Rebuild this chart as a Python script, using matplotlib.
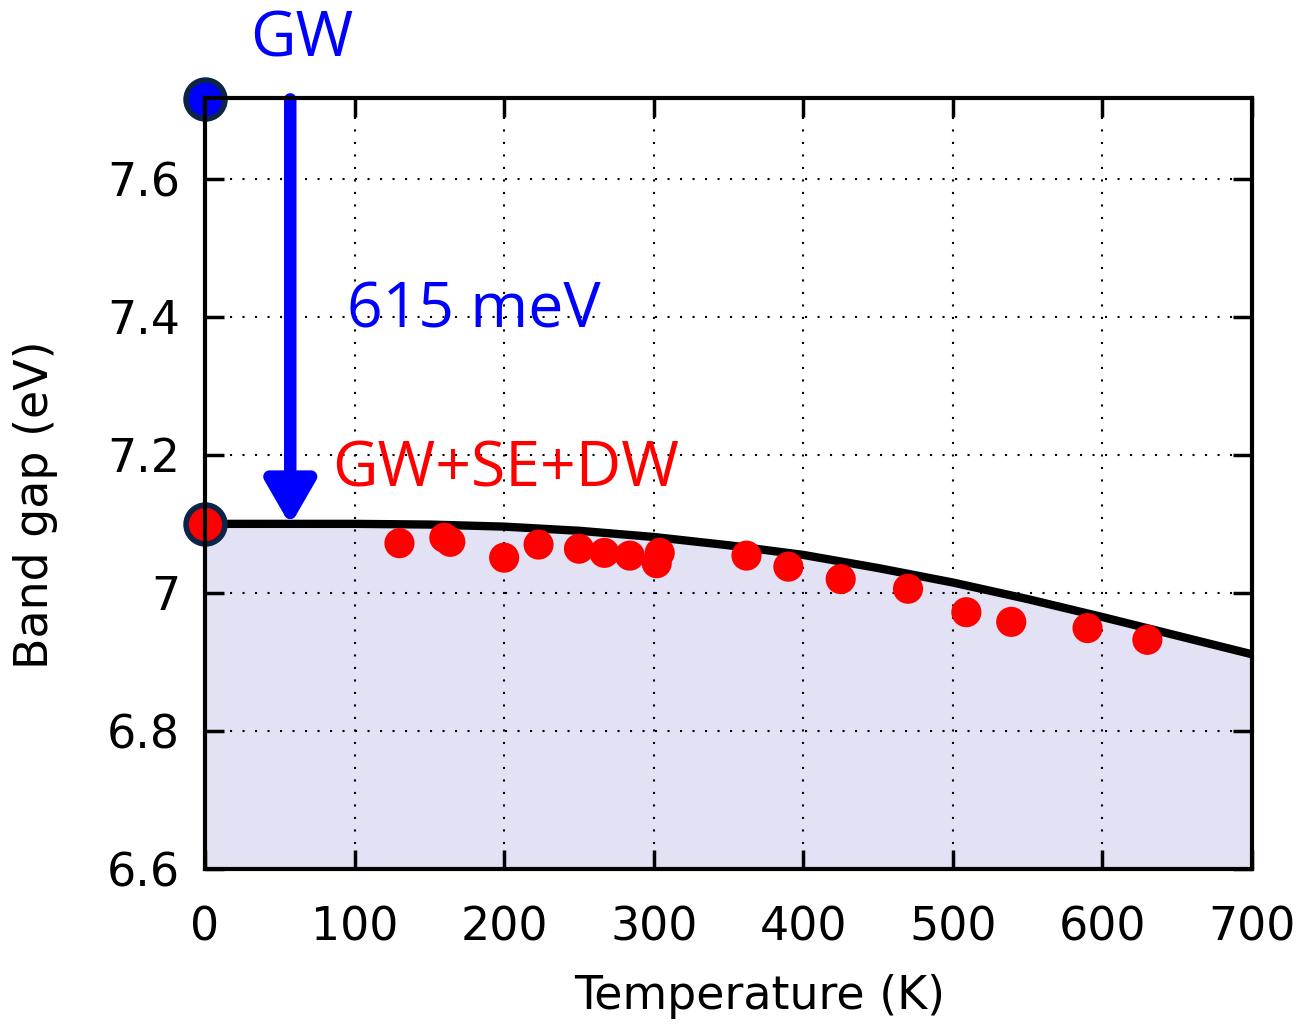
import matplotlib.pyplot as plt
import numpy as np

# theory curve (GW+SE+DW)
curve_T = [0, 50, 100, 150, 200, 250, 300, 350, 400, 450, 500, 550, 600, 650, 700]
curve_E = [7.100, 7.100, 7.100, 7.099, 7.096, 7.090, 7.081, 7.069, 7.055, 7.036,
           7.015, 6.991, 6.965, 6.938, 6.911]

# experimental points
exp_T = [130, 160, 164, 200, 223, 250, 267, 284, 304, 302, 362, 390, 425, 470,
         509, 539, 590, 630]
exp_E = [7.072, 7.080, 7.074, 7.051, 7.070, 7.064, 7.058, 7.054, 7.058, 7.043,
         7.054, 7.038, 7.020, 7.006, 6.972, 6.958, 6.949, 6.932]

gw_gap = 7.715
gw_se_dw_gap = 7.100
shift_label = "615 meV"

fig = plt.figure(figsize=(13.09, 10.24), dpi=100)
ax = fig.add_axes([0.1566, 0.1514, 0.7999, 0.7529])

ax.fill_between(curve_T, 6.6, curve_E, color='#e2e2f4', zorder=1)
ax.plot(curve_T, curve_E, color='black', lw=6, zorder=3)
ax.scatter(exp_T, exp_E, s=470, color='red', edgecolors='none', zorder=4)

ax.plot([0], [gw_gap], 'o', ms=28, mfc='blue', mec='#0b2447', mew=4,
        clip_on=False, zorder=6)
ax.plot([0], [gw_se_dw_gap], 'o', ms=28, mfc='red', mec='#0b2447', mew=4,
        clip_on=False, zorder=6)

ax.annotate('', xy=(57, gw_se_dw_gap - 0.002), xytext=(57, gw_gap),
            arrowprops=dict(arrowstyle='-|>,head_width=1.5,head_length=2.6',
                            color='blue', lw=9, shrinkA=0, shrinkB=0),
            zorder=5)

ax.text(30, 7.800, 'GW', color='blue', fontsize=45, family='Open Sans',
        ha='left', va='center', clip_on=False)
ax.text(95, 7.408, shift_label, color='blue', fontsize=45, family='Open Sans',
        ha='left', va='center')
ax.text(85, 7.177, 'GW+SE+DW', color='red', fontsize=45, family='Open Sans',
        ha='left', va='center')

ax.set_xlim(0, 700)
ax.set_ylim(6.6, 7.717)
ax.set_xticks(range(0, 701, 100))
ax.set_yticks([6.6, 6.8, 7.0, 7.2, 7.4, 7.6])
ax.set_yticklabels(['6.6', '6.8', '7', '7.2', '7.4', '7.6'])
ax.grid(True, color='black', linestyle=(0, (1, 5)), lw=1.5)
ax.tick_params(direction='in', length=14, width=2.5, top=True, right=True,
               labelsize=33)
ax.tick_params(axis='x', pad=26)
ax.tick_params(axis='y', pad=18)
for s in ax.spines.values():
    s.set_linewidth(3)
    s.set_zorder(7)

ax.set_xlabel('Temperature (K)', fontsize=33, va='center')
ax.xaxis.set_label_coords(0.530, -0.166)
ax.set_ylabel('Band gap (eV)', fontsize=33, va='center')
ax.yaxis.set_label_coords(-0.162, 0.472)

fig.savefig('out.png', dpi=100)
